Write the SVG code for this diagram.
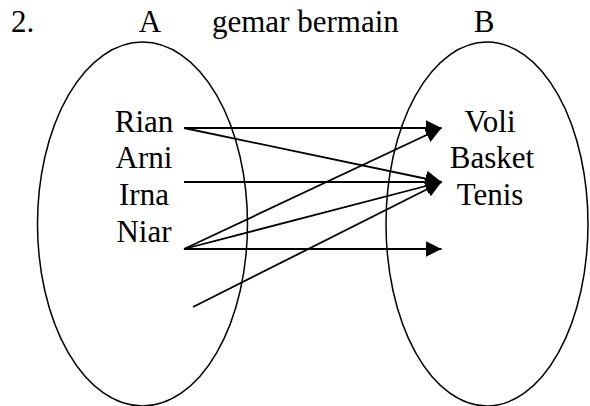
<svg xmlns="http://www.w3.org/2000/svg" width="590" height="406" viewBox="0 0 590 406">
<defs>
<style>
text{font-family:"Liberation Serif","Times New Roman",serif;font-size:31px;fill:#000}
.c{text-anchor:middle}
.set{fill:none;stroke:#000;stroke-width:1.5}
.arr{stroke:#000;stroke-width:1.8;fill:none;marker-end:url(#ah)}
</style>
<marker id="ah" markerUnits="userSpaceOnUse" markerWidth="18" markerHeight="18" refX="16" refY="8" orient="auto">
<path d="M0,0 L16,8 L0,16 z" fill="#000"/>
</marker>
</defs>
<rect width="590" height="406" fill="#fff"/>
<g id="title">
<text x="11" y="32">2.</text>
<text x="150" y="32" class="c">A</text>
<text x="212" y="32">gemar bermain</text>
<text x="484" y="32" class="c">B</text>
</g>
<g id="setA"><ellipse class="set" cx="142.5" cy="224" rx="105" ry="182"/></g>
<g id="setB"><ellipse class="set" cx="487" cy="224" rx="101" ry="182"/></g>
<g id="a-rian"><text x="144" y="132" class="c">Rian</text></g>
<g id="a-arni"><text x="144" y="168" class="c">Arni</text></g>
<g id="a-irna"><text x="144" y="205" class="c">Irna</text></g>
<g id="a-niar"><text x="144" y="242" class="c">Niar</text></g>
<g id="b-voli"><text x="490" y="132" class="c">Voli</text></g>
<g id="b-basket"><text x="492" y="168" class="c">Basket</text></g>
<g id="b-tenis"><text x="490" y="205" class="c">Tenis</text></g>
<g id="connectors">
<line class="arr" x1="184" y1="128" x2="441.5" y2="128"/>
<line class="arr" x1="184" y1="128" x2="441.5" y2="182"/>
<line class="arr" x1="184" y1="182" x2="441.5" y2="182"/>
<line class="arr" x1="184" y1="249" x2="441.5" y2="128"/>
<line class="arr" x1="184" y1="249" x2="441.5" y2="182"/>
<line class="arr" x1="184" y1="249" x2="441.5" y2="249"/>
<line class="arr" x1="193" y1="307" x2="441.5" y2="182"/>
</g>
</svg>
